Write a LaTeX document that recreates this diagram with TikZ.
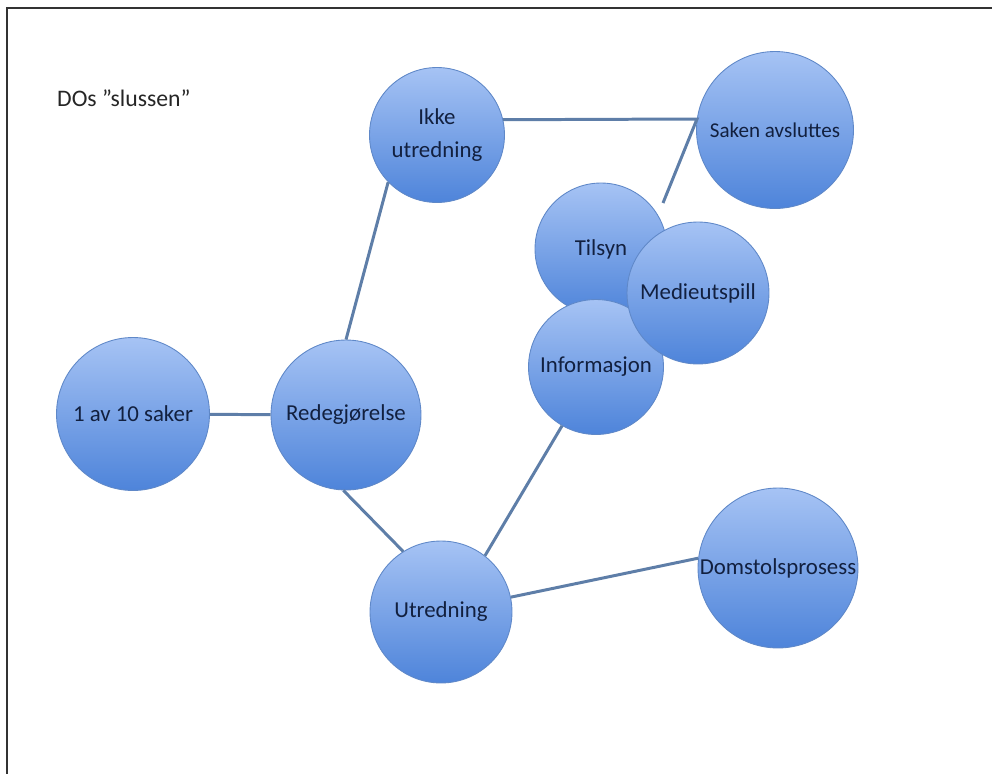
\documentclass[tikz,border=0pt]{standalone}
\usepackage{fontspec}
\setmainfont{Carlito}
\usetikzlibrary{positioning,calc,shadings}
\definecolor{bubbletop}{HTML}{A6C3F4}
\definecolor{bubblebot}{HTML}{4E84DA}
\definecolor{bubbleline}{HTML}{5F88C8}
\definecolor{linkcol}{HTML}{5E7EA8}
\definecolor{labelcol}{HTML}{12203F}
\tikzset{
  bubble/.style={circle, inner sep=0pt, draw=bubbleline, line width=0.5pt,
    top color=bubbletop, bottom color=bubblebot, text=labelcol,
    font=\fontsize{13}{18.5}\selectfont, align=center},
  link/.style={draw=linkcol, line width=1.7pt}
}

\begin{document}
\begin{tikzpicture}[x=0.02cm, y=-0.02cm]
    \useasboundingbox (0,0) rectangle (992,774);
    \draw[line width=1.2pt, black!80] (992,8) -- (7,8) -- (7,774);

    \node[anchor=west, font=\fontsize{13.5}{16}\selectfont, text=black!85] (title) at (51,98) {DOs ”slussen”};

    \node[bubble, minimum size=3.06cm] (saker)   at (133,414) {1 av 10 saker};
    \node[bubble, minimum size=3.0cm]  (redeg)   at (346,415) {Redegjørelse};
    \node[bubble, minimum size=2.7cm]  (ikke)    at (437,135) {Ikke\\utredning};
    \node[bubble, minimum size=2.84cm] (utred)   at (441,612) {Utredning};
    \node[bubble, minimum size=3.14cm, font=\fontsize{12}{16}\selectfont] (saken) at (775,130) {Saken avsluttes};
    \node[bubble, minimum size=2.64cm] (tilsyn)  at (601,249) {Tilsyn};
    \node[bubble, minimum size=2.7cm]  (info)    at (596,367) {Informasjon};
    \node[bubble, minimum size=2.84cm] (medie)   at (698,293) {Medieutspill};
    \node[bubble, minimum size=3.2cm]  (domstol) at (778,568) {Domstolsprosess};

    \coordinate (knee) at (697,119);
    \coordinate (tail) at (663,203);

    \draw[link] (saker) -- (redeg);
    \draw[link] (redeg.north) -- (ikke.224);
    \draw[link] (redeg.268) -- (utred.122);
    \draw[link] (utred.52) -- (info.240);
    \draw[link] (utred.12) -- (domstol.173);
    \draw[link] (ikke.13) -- (knee) -- (tail);

\end{tikzpicture}
\end{document}
